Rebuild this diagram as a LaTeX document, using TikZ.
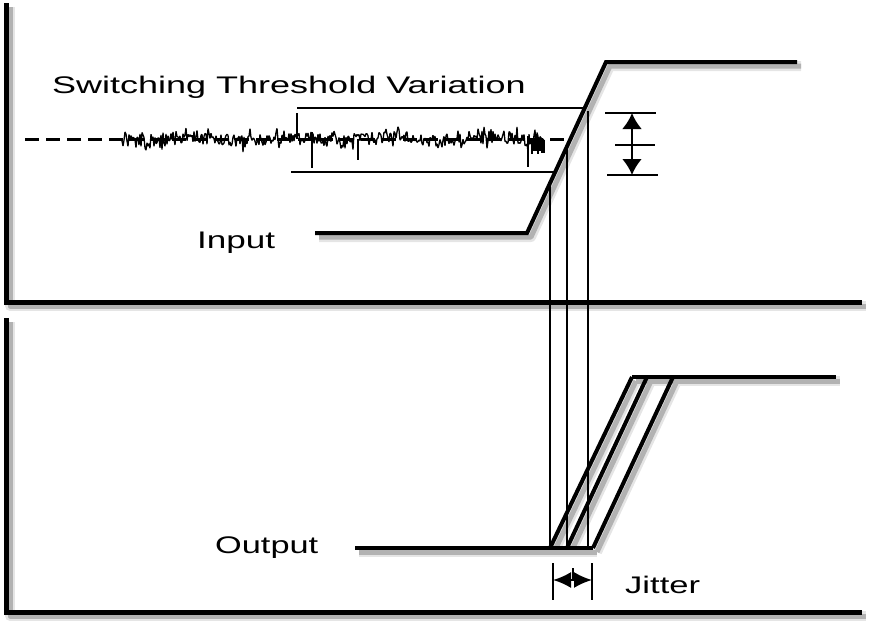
\documentclass[tikz,border=0pt]{standalone}
\usepackage{fontspec}
\setmainfont{Liberation Sans}
\usetikzlibrary{arrows.meta}
\begin{document}
\begin{tikzpicture}[x=1pt,y=-1pt,
  shadowA/.style={draw=black!10,line width=10pt,line join=round},
  shadowB/.style={draw=black!30,line width=5pt,line join=round},
  axisline/.style={line width=5pt,line join=miter},
  signal/.style={line width=4pt,line join=miter},
  thinline/.style={line width=1.1pt},
  noise/.style={line width=1.3pt,line join=bevel},
  threshold/.style={line width=3pt,dash pattern=on 14pt off 7pt},
  lbl/.style={inner sep=0pt,font=\fontsize{24}{28}\selectfont},
  dimarrow/.style={line width=2.6pt,{Latex[length=16pt,width=20pt]}-{Latex[length=16pt,width=20pt]}},
  jitarrow/.style={line width=2pt,{Latex[length=18pt,width=16pt]}-{Latex[length=18pt,width=16pt]}}]
\useasboundingbox (0,0) rectangle (871,624);

% shadows of the thick lines (offset 4,4)
\draw[shadowA] (10,7) -- (10,306) -- (866,306);
\draw[shadowA] (10,322) -- (10,616) -- (866,616);
\draw[shadowA] (319,237) -- (531,237) -- (610,66) -- (801,66);
\draw[shadowA] (359,552) -- (597,552);
\draw[shadowA] (554,552) -- (636,381);
\draw[shadowA] (571,552) -- (651,381);
\draw[shadowA] (597,552) -- (677,381);
\draw[shadowA] (636,381) -- (840,381);
\draw[shadowB] (10,7) -- (10,306) -- (866,306);
\draw[shadowB] (10,322) -- (10,616) -- (866,616);
\draw[shadowB] (319,237) -- (531,237) -- (610,66) -- (801,66);
\draw[shadowB] (359,552) -- (597,552);
\draw[shadowB] (554,552) -- (636,381);
\draw[shadowB] (571,552) -- (651,381);
\draw[shadowB] (597,552) -- (677,381);
\draw[shadowB] (636,381) -- (840,381);

% axes
\draw[axisline] (6,3) -- (6,302) -- (862,302);
\draw[axisline] (6,318) -- (6,612) -- (862,612);

% labels
\node[lbl,anchor=base west] (title) at (52,93) {\scalebox{1.5}[1]{Switching Threshold Variation}};
\node[lbl,anchor=base west] (input) at (197,248) {\scalebox{1.46}[1]{Input}};
\node[lbl,anchor=base west] (output) at (215,553) {\scalebox{1.43}[1]{Output}};
\node[lbl,anchor=base west] (jitter) at (625,593) {\scalebox{1.44}[1]{Jitter}};

% threshold variation band
\draw[thinline] (297,108) -- (583,108);
\draw[thinline] (291,172) -- (556,172);

% dashed threshold
\draw[threshold] (25,139) -- (568,139);

% noise
\pgfmathsetseed{42}
\draw[noise] (122,141) \foreach \x in {123,124,...,544} {-- (\x,{139+2.5*sin((\x-120)*3.6)+7*rand+10*rand*rand*rand})};
\draw[noise] (297,113) -- (297,139);
\draw[noise] (312,132) -- (312,168);
\draw[noise] (358,139) -- (358,160);
\draw[noise] (528,136) -- (528,167);
\foreach \x in {532,534,536,538,540,542,544} {\draw[noise] (\x,140) -- (\x,{152+2*rand});}

% input signal
\coordinate (inA) at (315,233);
\coordinate (inB) at (527,233);
\coordinate (inC) at (606,62);
\coordinate (inD) at (797,62);
\draw[signal] (inA) -- (inB) -- (inC) -- (inD);

% projection lines
\draw[thinline] (550,183) -- (550,548);
\draw[thinline] (567,147) -- (567,548);
\draw[thinline] (588,111) -- (588,548);

% variation arrow
\draw[thinline] (605,113) -- (656,113);
\draw[thinline] (615,145) -- (655,145);
\draw[thinline] (607,175) -- (658,175);
\draw[dimarrow] (632,113) -- (632,175);

% output signals
\draw[signal] (355,548) -- (593,548);
\draw[signal] (550,548) -- (632,377);
\draw[signal] (567,548) -- (647,377);
\draw[signal] (593,548) -- (673,377);
\draw[signal] (632,377) -- (836,377);

% jitter
\draw[thinline] (553,563) -- (553,600);
\draw[thinline] (592,563) -- (592,600);
\draw[jitarrow] (553,580) -- (592,580);
\draw[thinline] (573,568) -- (573,580);
\end{tikzpicture}
\end{document}
